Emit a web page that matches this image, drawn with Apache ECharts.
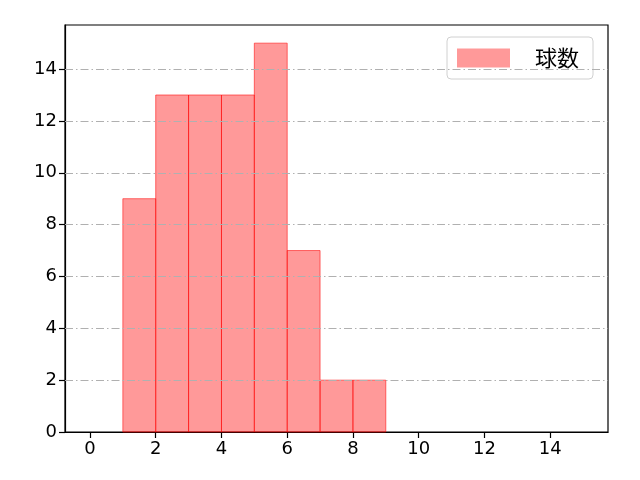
<!DOCTYPE html>
<html>
<head>
<meta charset="utf-8">
<script src="https://cdn.jsdelivr.net/npm/echarts@6/dist/echarts.min.js"></script>
<style>
  html, body { margin: 0; padding: 0; background: #fff; }
  #chart { width: 640px; height: 480px; }
</style>
</head>
<body>
<div id="chart"></div>
<script>
// ヒストグラムのデータ（ビン左端・右端・度数）
var binStart = [1, 2, 3, 4, 5, 6, 7, 8];
var binEnd = [2, 3, 4, 5, 6, 7, 8, 9];
var counts = [9, 13, 13, 13, 15, 7, 2, 2];
var xTicks = [0, 2, 4, 6, 8, 10, 12, 14];
var yTicks = [0, 2, 4, 6, 8, 10, 12, 14];
var seriesName = '球数';

var chart = echarts.init(document.getElementById('chart'));

var barData = [];
binStart.forEach(function(s, i) {
    barData.push([s, binEnd[i], counts[i]]);
});

var fontFamily = 'DejaVu Sans, Noto Sans CJK JP, sans-serif';

var option = {
    animation: false,
    grid: {
        left: 65,
        right: 32,
        top: 25,
        bottom: 48,
        show: true,
        borderColor: '#000',
        borderWidth: 1.2,
        backgroundColor: 'transparent'
    },
    legend: {
        left: 447,
        top: 37,
        padding: [10, 14, 10, 10],
        borderColor: '#d0d0d0',
        borderWidth: 1,
        borderRadius: 4,
        itemWidth: 53,
        itemHeight: 19,
        data: [{ name: seriesName, icon: 'rect' }],
        textStyle: {
            fontFamily: 'Noto Sans CJK JP',
            fontSize: 22,
            color: '#000',
            padding: [0, 0, 0, 20]
        }
    },
    xAxis: {
        type: 'value',
        min: -0.76,
        max: 15.76,
        axisLine: { show: true, onZero: false, lineStyle: { color: '#000', width: 1.2 } },
        axisTick: {
            show: true,
            length: 6,
            lineStyle: { color: '#000', width: 1.2 },
            customValues: xTicks
        },
        axisLabel: {
            customValues: xTicks,
            color: '#000',
            fontSize: 18,
            fontFamily: fontFamily,
            margin: 8
        },
        splitLine: { show: false }
    },
    yAxis: {
        type: 'value',
        min: 0,
        max: 15.7,
        axisLine: { show: true, onZero: false, lineStyle: { color: '#000', width: 1.2 } },
        axisTick: {
            show: true,
            length: 6,
            lineStyle: { color: '#000', width: 1.2 },
            customValues: yTicks
        },
        axisLabel: {
            customValues: yTicks,
            color: '#000',
            fontSize: 18,
            fontFamily: fontFamily,
            margin: 8
        },
        splitLine: { show: false }
    },
    series: [
        {
            name: seriesName,
            type: 'custom',
            itemStyle: { color: 'rgba(255,0,0,0.4)' },
            renderItem: function(params, api) {
                var p0 = api.coord([api.value(0), api.value(2)]);
                var p1 = api.coord([api.value(1), 0]);
                return {
                    type: 'rect',
                    shape: { x: p0[0], y: p0[1], width: p1[0] - p0[0], height: p1[1] - p0[1] },
                    style: {
                        fill: 'rgba(255,0,0,0.4)',
                        stroke: 'rgba(255,0,0,0.55)',
                        lineWidth: 1
                    }
                };
            },
            encode: { x: [0, 1], y: 2 },
            data: barData,
            z: 2
        },
        {
            // 横方向の補助線（一点鎖線）
            type: 'line',
            data: [],
            z: 3,
            markLine: {
                silent: true,
                symbol: 'none',
                label: { show: false },
                lineStyle: { color: '#b0b0b0', width: 1, type: [8, 3, 1.5, 3] },
                data: yTicks.slice(1).map(function(v) { return { yAxis: v }; })
            }
        }
    ]
};

chart.setOption(option);
</script>
</body>
</html>
